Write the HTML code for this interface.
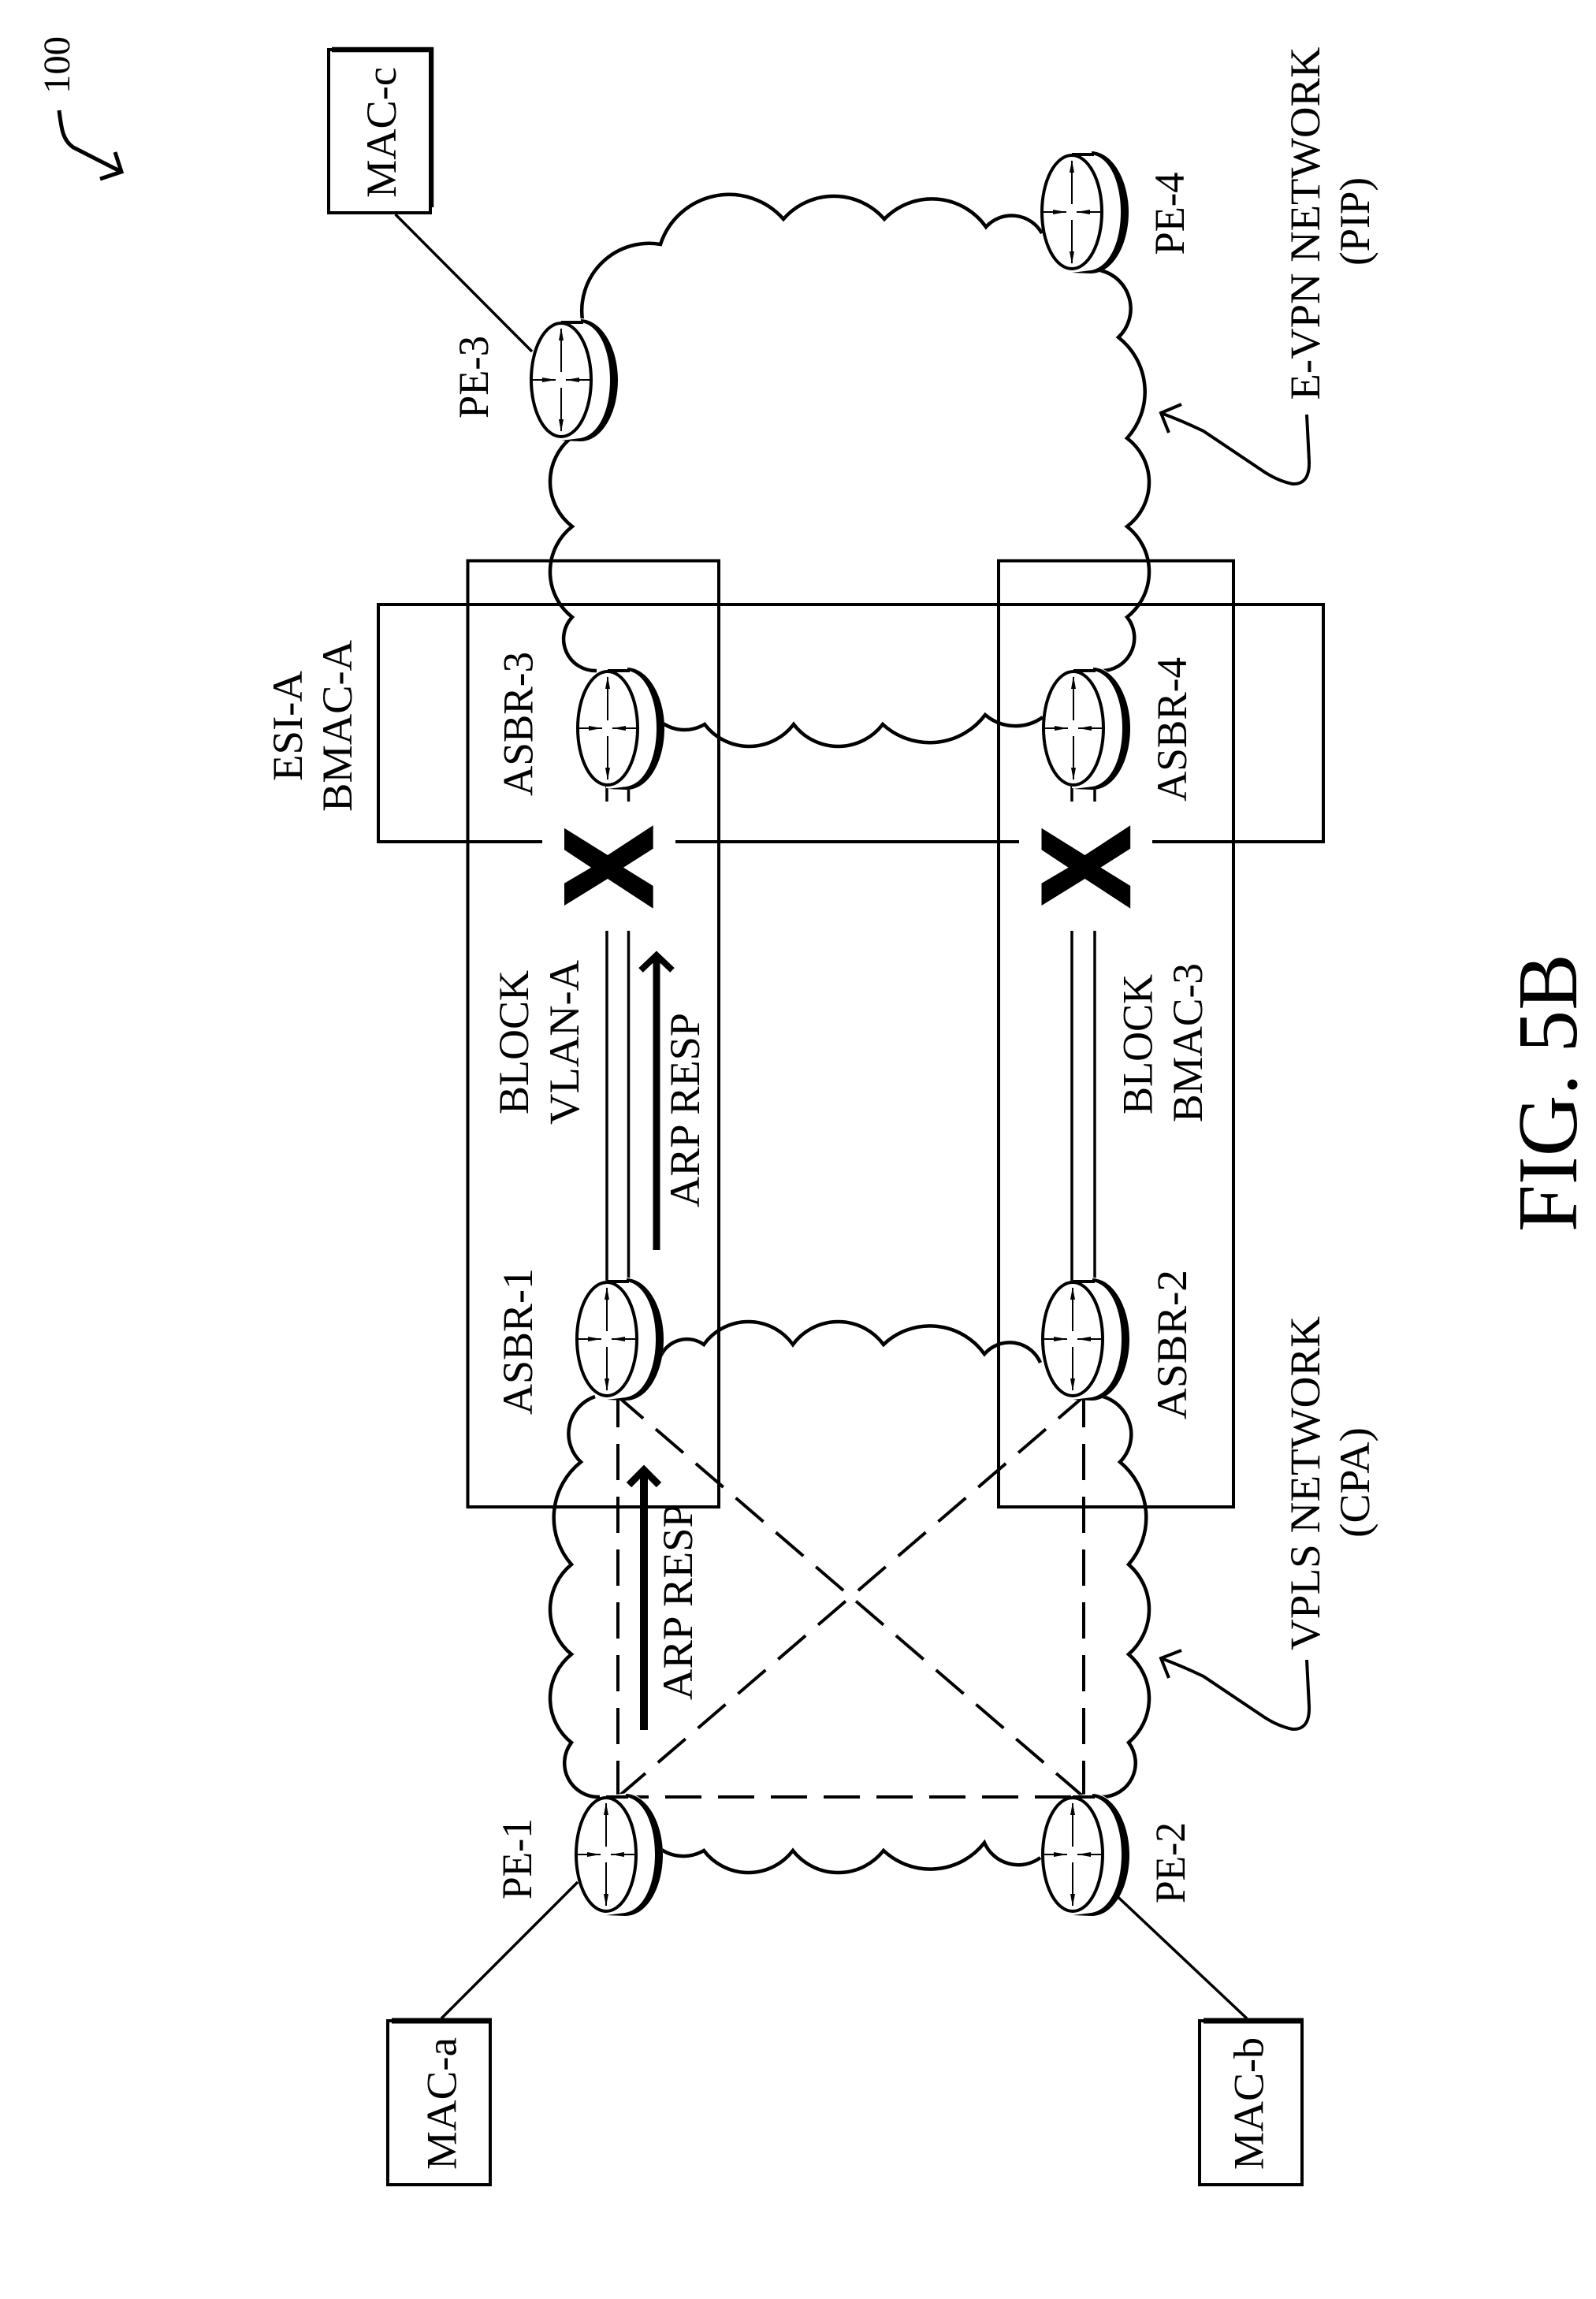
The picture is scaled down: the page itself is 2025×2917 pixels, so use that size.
<!DOCTYPE html>
<html><head><meta charset="utf-8"><title>FIG. 5B</title>
<style>html,body{margin:0;padding:0;background:#fff}svg{display:block}
text{font-family:"Liberation Serif",serif;font-size:54px;fill:#000}</style></head>
<body>
<svg xmlns="http://www.w3.org/2000/svg" width="2025" height="2917" viewBox="0 0 2025 2917">
<defs>
<g id="r">
<path d="M27,-78 C52,-76 72,-40 72,0 C72,42 52,78 24,78 L-2,76 L-2,-74 Z" fill="#fff" stroke="none"/>
<path d="M25,-77 C52,-76 72,-40 72,0 C72,42 52,78 24,78 L0,77 L24,74 C48,70 62,38 62,0 C62,-38 48,-70 25,-73 Z" fill="#000"/>
<line x1="0" y1="-73" x2="28" y2="-73" stroke="#000" stroke-width="4"/>
<ellipse rx="38" ry="72" fill="#fff" stroke="#000" stroke-width="4"/>
<g stroke="#000" stroke-width="2" fill="#000">
<line x1="0" y1="-65" x2="0" y2="-10"/><line x1="0" y1="10" x2="0" y2="65"/>
<line x1="-36" y1="0" x2="-7" y2="0"/><line x1="6" y1="0" x2="36" y2="0"/>
</g>
<g fill="#000">
<polygon points="0,-66 3,-50 -3,-50"/><polygon points="0,66 3,50 -3,50"/>
<polygon points="-7,0 -24,-3 -24,3"/><polygon points="6,0 23,-3 23,3"/>
</g>
</g>
<polygon id="x" fill="#000" points="716,1050.7 771,1085 828.7,1047.3 828.7,1076.7 791,1100.7 828.7,1124 828.7,1152.7 771,1115 716,1149 716,1120.7 750,1100.7 716,1078.3"/>
</defs>
<rect width="2025" height="2917" fill="#fff"/>

<!-- VPLS cloud -->
<g fill="none" stroke="#000" stroke-width="4.5" stroke-linejoin="miter">
<path d="M838,1721 A36.7,36.7 0 0 1 893,1706 A69.5,69.5 0 0 1 1006,1706 A71.5,71.5 0 0 1 1121,1706 A85,85 0 0 1 1249,1718 A42.4,42.4 0 0 1 1320,1729"/>
<path d="M838,2346 A51,51 0 0 0 893,2348 A71,71 0 0 0 1006,2348 A73,73 0 0 0 1121,2348 A86.8,86.8 0 0 0 1249,2338 A47,47 0 0 0 1320,2357"/>
<path d="M1386,1770 A50,50 0 0 1 1421,1855 A91,91 0 0 1 1432,1985 A75.5,75.5 0 0 1 1432,2099 A73.3,73.3 0 0 1 1432,2211 A43,43 0 0 1 1398,2280"/>
<path d="M755,1772 A49.6,49.6 0 0 0 737,1855 A90,90 0 0 0 725,1985 A73.7,73.7 0 0 0 725,2099 A71.6,71.6 0 0 0 725,2211 A43,43 0 0 0 761,2280"/>
<!-- E-VPN cloud -->
<path d="M724,556 A71.6,71.6 0 0 0 726,668 A73,73 0 0 0 726,783 A40.4,40.4 0 0 0 757,851"/>
<path d="M739,406 A85.5,85.5 0 0 1 838,310 A91.7,91.7 0 0 1 994,278 A85,85 0 0 1 1122,278 A84,84 0 0 1 1251,288 A44,44 0 0 1 1322,296"/>
<path d="M1396,343 A50,50 0 0 1 1419,428 A87.7,87.7 0 0 1 1430,556 A70,70 0 0 1 1430,668 A73,73 0 0 1 1430,783 A41.8,41.8 0 0 1 1395,851"/>
<path d="M840,917 A49.6,49.6 0 0 0 894,919 A71,71 0 0 0 1007,919 A71,71 0 0 0 1120,919 A88,88 0 0 0 1250,907 A59.5,59.5 0 0 0 1323,910"/>
</g>

<!-- rectangles -->
<g fill="none" stroke="#000" stroke-width="4">
<rect x="593.5" y="711.5" width="318.5" height="1200.5"/>
<rect x="1267" y="711.5" width="298" height="1200.5"/>
<path d="M688,1068 H480 V767 H1679 V1068 H1462"/>
<path d="M857,1068 H1293"/>
</g>

<!-- double lines -->
<g stroke="#000" stroke-width="3.5">
<line x1="770" y1="990" x2="770" y2="1017"/><line x1="797.5" y1="990" x2="797.5" y2="1017"/>
<line x1="1360" y1="990" x2="1360" y2="1017"/><line x1="1389" y1="990" x2="1389" y2="1017"/>
<line x1="770" y1="1181" x2="770" y2="1630"/><line x1="797.5" y1="1181" x2="797.5" y2="1630"/>
<line x1="1360" y1="1181" x2="1360" y2="1630"/><line x1="1389" y1="1181" x2="1389" y2="1630"/>
</g>

<!-- X marks -->
<use href="#x"/>
<use href="#x" x="605.5"/>

<!-- dashed mesh -->
<g fill="none" stroke="#000" stroke-width="4" stroke-dasharray="46 21">
<path d="M784,2280 V1772"/>
<path d="M1375,2280 V1772"/>
<path d="M784,2280 H1375" stroke-dashoffset="7"/>
<path d="M784,2280 L1375,1772"/>
<path d="M1375,2280 L784,1772"/>
</g>

<!-- routers -->
<use href="#r" x="770" y="1699"/>
<use href="#r" x="1361" y="1699"/>
<use href="#r" x="769" y="2353"/>
<use href="#r" x="1361" y="2353"/>
<use href="#r" x="712" y="482"/>
<use href="#r" x="1360" y="269"/>
<use href="#r" x="771" y="924"/>
<use href="#r" x="1362" y="924"/>

<!-- thick arrows -->
<g fill="none" stroke="#000">
<line x1="833" y1="1586" x2="833" y2="1215" stroke-width="9"/>
<polyline points="813,1231 833,1212 853,1231" stroke-width="8"/>
<line x1="817" y1="2195" x2="817" y2="1868" stroke-width="10"/>
<polyline points="798,1884 817,1865 836,1884" stroke-width="9"/>
</g>

<!-- MAC boxes -->
<g fill="#fff" stroke="#000" stroke-width="4">
<rect x="417" y="63" width="129" height="207"/>
<rect x="492" y="2564" width="130" height="208"/>
<rect x="1522" y="2564" width="130" height="208"/>
</g>
<g stroke="#000" fill="none">
<line x1="421" y1="63" x2="550" y2="63" stroke-width="6.5"/>
<line x1="547.5" y1="60" x2="547.5" y2="263" stroke-width="5.5"/>
<line x1="497" y1="2564" x2="624" y2="2564" stroke-width="7"/>
<line x1="1527" y1="2564" x2="1654" y2="2564" stroke-width="7"/>
<g stroke-width="3.5">
<line x1="501.7" y1="272" x2="675" y2="446"/>
<line x1="733" y1="2388" x2="560" y2="2561"/>
<line x1="1418.5" y1="2407" x2="1582" y2="2561"/>
</g>
</g>

<!-- leaders -->
<g fill="none" stroke="#000" stroke-width="4">
<path d="M1658,2106 L1661,2165 Q1662,2195 1640,2194 Q1620,2190 1600,2176 L1527,2127 Q1500,2114 1473,2104"/>
<path d="M1499,2094 L1473,2104 L1483,2129"/>
<path d="M1658,526 L1661,585 Q1662,615 1640,614 Q1620,610 1600,596 L1527,547 Q1500,534 1473,524"/>
<path d="M1499,513 L1473,524 L1483,549"/>
<path d="M75,140 C78,165 80,178 93,187 L154,218" stroke-width="5"/>
<path d="M146,193 L154,218 L127,227" stroke-width="5"/>
</g>

<!-- labels -->
<g>
<text transform="translate(502,251) rotate(-90)" textLength="166" lengthAdjust="spacingAndGlyphs">MAC-c</text>
<text transform="translate(578.5,2753) rotate(-90)" textLength="168" lengthAdjust="spacingAndGlyphs">MAC-a</text>
<text transform="translate(1602.5,2753) rotate(-90)" textLength="168" lengthAdjust="spacingAndGlyphs">MAC-b</text>
<text transform="translate(675,1795) rotate(-90)" textLength="186" lengthAdjust="spacingAndGlyphs">ASBR-1</text>
<text transform="translate(1505,1801) rotate(-90)" textLength="190" lengthAdjust="spacingAndGlyphs">ASBR-2</text>
<text transform="translate(675.5,1010) rotate(-90)" textLength="183" lengthAdjust="spacingAndGlyphs">ASBR-3</text>
<text transform="translate(1505,1017) rotate(-90)" textLength="183" lengthAdjust="spacingAndGlyphs">ASBR-4</text>
<text transform="translate(674,2410) rotate(-90)" textLength="103" lengthAdjust="spacingAndGlyphs">PE-1</text>
<text transform="translate(1503,2415) rotate(-90)" textLength="103" lengthAdjust="spacingAndGlyphs">PE-2</text>
<text transform="translate(619,531) rotate(-90)" textLength="105" lengthAdjust="spacingAndGlyphs">PE-3</text>
<text transform="translate(1502,323.5) rotate(-90)" textLength="105" lengthAdjust="spacingAndGlyphs">PE-4</text>
<text transform="translate(670,1414) rotate(-90)" textLength="183" lengthAdjust="spacingAndGlyphs">BLOCK</text>
<text transform="translate(734,1427) rotate(-90)" textLength="209" lengthAdjust="spacingAndGlyphs">VLAN-A</text>
<text transform="translate(1461.5,1414) rotate(-90)" textLength="178" lengthAdjust="spacingAndGlyphs">BLOCK</text>
<text transform="translate(1525,1424) rotate(-90)" textLength="202" lengthAdjust="spacingAndGlyphs">BMAC-3</text>
<text transform="translate(887,1532) rotate(-90)" textLength="247" lengthAdjust="spacingAndGlyphs">ARP RESP</text>
<text transform="translate(878,2157) rotate(-90)" textLength="249" lengthAdjust="spacingAndGlyphs">ARP RESP</text>
<text transform="translate(383,991) rotate(-90)" textLength="140" lengthAdjust="spacingAndGlyphs">ESI-A</text>
<text transform="translate(446,1030) rotate(-90)" textLength="218" lengthAdjust="spacingAndGlyphs">BMAC-A</text>
<text transform="translate(1674,2094) rotate(-90)" textLength="424" lengthAdjust="spacingAndGlyphs">VPLS NETWORK</text>
<text transform="translate(1737,1951) rotate(-90)" textLength="140" lengthAdjust="spacingAndGlyphs">(CPA)</text>
<text transform="translate(1674,507.5) rotate(-90)" textLength="448" lengthAdjust="spacingAndGlyphs">E-VPN NETWORK</text>
<text transform="translate(1737,337) rotate(-90)" textLength="112" lengthAdjust="spacingAndGlyphs">(PIP)</text>
<text transform="translate(88,119) rotate(-90)" style="font-size:48px" textLength="73" lengthAdjust="spacingAndGlyphs">100</text>
<text transform="translate(2000,1563) rotate(-90)" style="font-size:108px" textLength="353" lengthAdjust="spacingAndGlyphs">FIG. 5B</text>
</g>
</svg>
</body></html>
